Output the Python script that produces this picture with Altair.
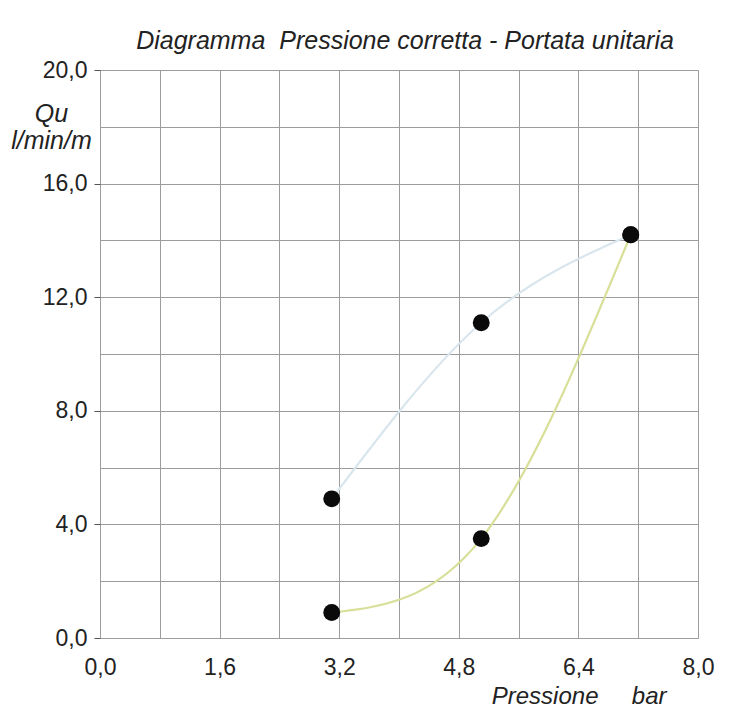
import altair as alt
import pandas as pd

# ---- data ----
pressure = [3.1, 5.1, 7.1]
flow_upper = [4.9, 11.1, 14.2]
flow_lower = [0.9, 3.5, 14.2]

x_ticks = [0.0, 0.8, 1.6, 2.4, 3.2, 4.0, 4.8, 5.6, 6.4, 7.2, 8.0]
y_ticks = [0, 2, 4, 6, 8, 10, 12, 14, 16, 18, 20]

rows = []
for p, v in zip(pressure, flow_upper):
    rows.append({"p": p, "q": v, "serie": "alta"})
for p, v in zip(pressure, flow_lower):
    rows.append({"p": p, "q": v, "serie": "bassa"})
df = pd.DataFrame(rows)

FONT = "Liberation Sans"
GRID = "#9c9c9c"

x_enc = alt.X(
    "p:Q",
    scale=alt.Scale(domain=[0, 8], nice=False, zero=False),
    axis=alt.Axis(
        values=x_ticks,
        grid=True, gridColor=GRID, gridWidth=1,
        domain=False, ticks=False,
        labelExpr="round(datum.value*10) % 16 === 0 ? replace(format(datum.value, '.1f'), '.', ',') : ''",
        labelFont=FONT, labelFontSize=23, labelColor="#222",
        labelPadding=18, labelFlush=False, labelOverlap=False,
        title="Pressione\u00a0\u00a0\u00a0\u00a0\u00a0bar",
        titleFont=FONT, titleFontSize=24, titleFontStyle="italic", titleFontWeight="normal",
        titleColor="#222", titleAlign="right", titleBaseline="alphabetic",
        titleX=566, titleY=65,
    ),
)

y_enc = alt.Y(
    "q:Q",
    scale=alt.Scale(domain=[0, 20], nice=False),
    axis=alt.Axis(
        values=y_ticks,
        grid=True, gridColor=GRID, gridWidth=1,
        domain=False, ticks=True, tickSize=6, tickColor="#555",
        tickOpacity={"condition": {"test": "datum.value % 4 === 0", "value": 1}, "value": 0},
        labelExpr="datum.value % 4 === 0 ? replace(format(datum.value, '.1f'), '.', ',') : ''",
        labelFont=FONT, labelFontSize=23, labelColor="#222",
        labelPadding=7, labelOverlap=False,
        title=["Qu", "l/min/m"],
        titleFont=FONT, titleFontSize=25, titleFontStyle="italic", titleFontWeight="normal",
        titleColor="#222", titleAngle=0, titleAlign="center", titleBaseline="alphabetic",
        titleX=-49, titleY=51, titleLineHeight=27,
    ),
)

lines = alt.Chart(df).mark_line(interpolate="natural", strokeWidth=2.2).encode(
    x=x_enc,
    y=y_enc,
    color=alt.Color(
        "serie:N",
        scale=alt.Scale(domain=["alta", "bassa"], range=["#d9e6ee", "#d8df98"]),
        legend=None,
    ),
    detail="serie:N",
)

points = alt.Chart(df).mark_circle(size=285, color="#0a0a0a", opacity=1).encode(
    x="p:Q",
    y="q:Q",
)

chart = (
    alt.layer(lines, points)
    .properties(
        width=598,
        height=568,
        autosize=alt.AutoSizeParams(type="none"),
        padding={"left": 92, "top": 62, "right": 30, "bottom": 75},
        title=alt.TitleParams(
            "Diagramma\u00a0 Pressione corretta - Portata unitaria",
            font=FONT, fontSize=25, fontStyle="italic", fontWeight="normal",
            color="#222", anchor="middle", baseline="alphabetic", offset=20, dx=6, dy=35,
        ),
    )
    .configure_view(stroke=GRID, strokeWidth=1)
    .configure(background="white")
)

chart.save("out.html", embed_options={"renderer": "svg", "actions": False})
